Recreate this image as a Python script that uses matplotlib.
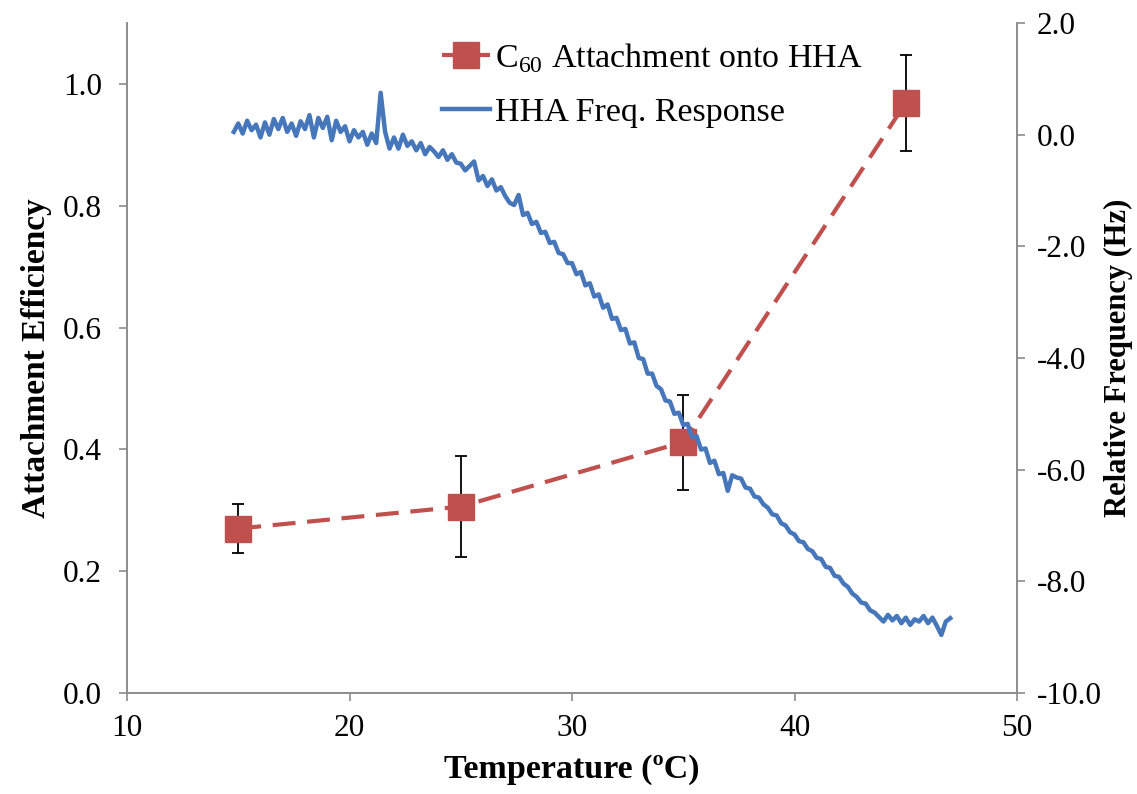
import numpy as np
import matplotlib
matplotlib.use("Agg")
import matplotlib.pyplot as plt
from matplotlib.lines import Line2D

plt.rcParams["font.family"] = ["Liberation Serif", "DejaVu Serif"]
plt.rcParams["mathtext.fontset"] = "custom"
plt.rcParams["mathtext.rm"] = "Liberation Serif"

# Anlagerung C60 (linke Achse)
temp_pts = [15, 25, 35, 45]
attach_eff = [0.270, 0.306, 0.412, 0.969]
attach_err = [0.040, 0.083, 0.078, 0.079]

# HHA Frequenzantwort (rechte Achse), Schritt 0.2 °C ab 14.8
freq_temp = np.round(np.arange(14.8, 47.01, 0.2), 1)
freq_hz = [
    0.05,
    0.20, 0.02, 0.25, 0.08, 0.18,      # 15
    -0.05, 0.22, 0.00, 0.28, 0.10,     # 16
    0.30, 0.05, 0.20, -0.02, 0.24,     # 17
    0.10, 0.35, -0.05, 0.30, 0.12,     # 18
    0.32, -0.10, 0.25, 0.05, 0.15,     # 19
    -0.12, 0.08, -0.05, 0.05, -0.18,   # 20
    0.02, -0.15, 0.75, 0.05, -0.25,    # 21
    -0.05, -0.25, 0.00, -0.20, -0.12,  # 22
    -0.28, -0.15, -0.35, -0.22, -0.30, # 23
    -0.40, -0.28, -0.45, -0.35, -0.50, # 24
    -0.52, -0.64, -0.56, -0.48, -0.82, # 25
    -0.74, -0.92, -0.80, -1.00, -0.94, # 26
    -1.10, -1.22, -1.26, -1.08, -1.44, # 27
    -1.40, -1.60, -1.56, -1.76, -1.74, # 28
    -1.94, -1.92, -2.12, -2.14, -2.30, # 29
    -2.30, -2.50, -2.46, -2.70, -2.66, # 30
    -2.90, -2.86, -3.10, -3.04, -3.30, # 31
    -3.28, -3.50, -3.48, -3.74, -3.72, # 32
    -4.00, -4.02, -4.28, -4.28, -4.50, # 33
    -4.56, -4.76, -4.78, -5.00, -4.98, # 34
    -5.20, -5.18, -5.42, -5.40, -5.64, # 35
    -5.62, -5.88, -5.84, -6.08, -6.06, # 36
    -6.38, -6.10, -6.14, -6.16, -6.32, # 37
    -6.34, -6.48, -6.50, -6.62, -6.68, # 38
    -6.80, -6.82, -6.96, -7.00, -7.12, # 39
    -7.16, -7.28, -7.30, -7.42, -7.46, # 40
    -7.58, -7.60, -7.74, -7.76, -7.90, # 41
    -7.92, -8.04, -8.10, -8.22, -8.28, # 42
    -8.38, -8.40, -8.52, -8.56, -8.64, # 43
    -8.72, -8.60, -8.70, -8.62, -8.75, # 44
    -8.65, -8.78, -8.68, -8.72, -8.62, # 45
    -8.75, -8.65, -8.80, -8.96, -8.72, # 46
    -8.66,
]

red = "#C0504D"
blue = "#4677BA"
grau = "#8C8C8C"

fig = plt.figure(figsize=(11.37, 7.94), dpi=100)
ax = fig.add_axes([127 / 1137, 1 - 693 / 794, 890 / 1137, 670 / 794])
ax2 = ax.twinx()

ax.errorbar(temp_pts, attach_eff, yerr=attach_err, fmt="none", ecolor="black",
            elinewidth=1.3, capsize=4.5, capthick=1.3, zorder=2)
ax.plot(temp_pts, attach_eff, color=red, lw=3, dashes=(5.5, 2.8),
        marker="s", markersize=18.5, markeredgecolor=red, zorder=3)

ax2.plot(freq_temp, freq_hz, color=blue, lw=3.2)

ax.set_xlim(10, 50)
ax.set_ylim(0, 1.1)
ax.set_yticks(np.arange(0, 1.01, 0.2))
ax.set_yticklabels([f"{v:.1f}" for v in np.arange(0, 1.01, 0.2)])
ax.set_xticks([10, 20, 30, 40, 50])
ax2.set_ylim(-10, 2)
ax2.set_yticks(np.arange(-10, 2.1, 2))
ax2.set_yticklabels([f"{v:.1f}" for v in np.arange(-10, 2.1, 2)])

for a in (ax, ax2):
    a.spines["top"].set_visible(False)
    for s in ("left", "right", "bottom"):
        a.spines[s].set_color(grau)
        a.spines[s].set_linewidth(1.2)
    a.tick_params(direction="out", length=6, width=1.2, color=grau, labelsize=22.5)
ax.tick_params(axis="y", pad=12)
ax.tick_params(axis="x", pad=9)
ax2.tick_params(axis="y", pad=8)

ax.set_xlabel("Temperature (ºC)", fontsize=24.5, fontweight="bold", labelpad=8)
ax.set_ylabel("Attachment Efficiency", fontsize=24, fontweight="bold", labelpad=8)
ax2.set_ylabel("Relative Frequency (Hz)", fontsize=22, fontweight="bold", labelpad=2)

handles = [
    Line2D([], [], color=red, lw=3, dashes=(5.5, 2.8), marker="s",
           markersize=18.5, markeredgecolor=red),
    Line2D([], [], color=blue, lw=3.2),
]
labels = ["C$_{60}$ Attachment onto HHA", "HHA Freq. Response"]
ax2.legend(handles, labels, loc="upper left", bbox_to_anchor=(425 / 1137, 1 - 24 / 794),
           bbox_transform=fig.transFigure, frameon=False, fontsize=24.5,
           handlelength=1.4, handletextpad=0.15, labelspacing=0.65, borderpad=0)

fig.savefig("out.png", dpi=100)
